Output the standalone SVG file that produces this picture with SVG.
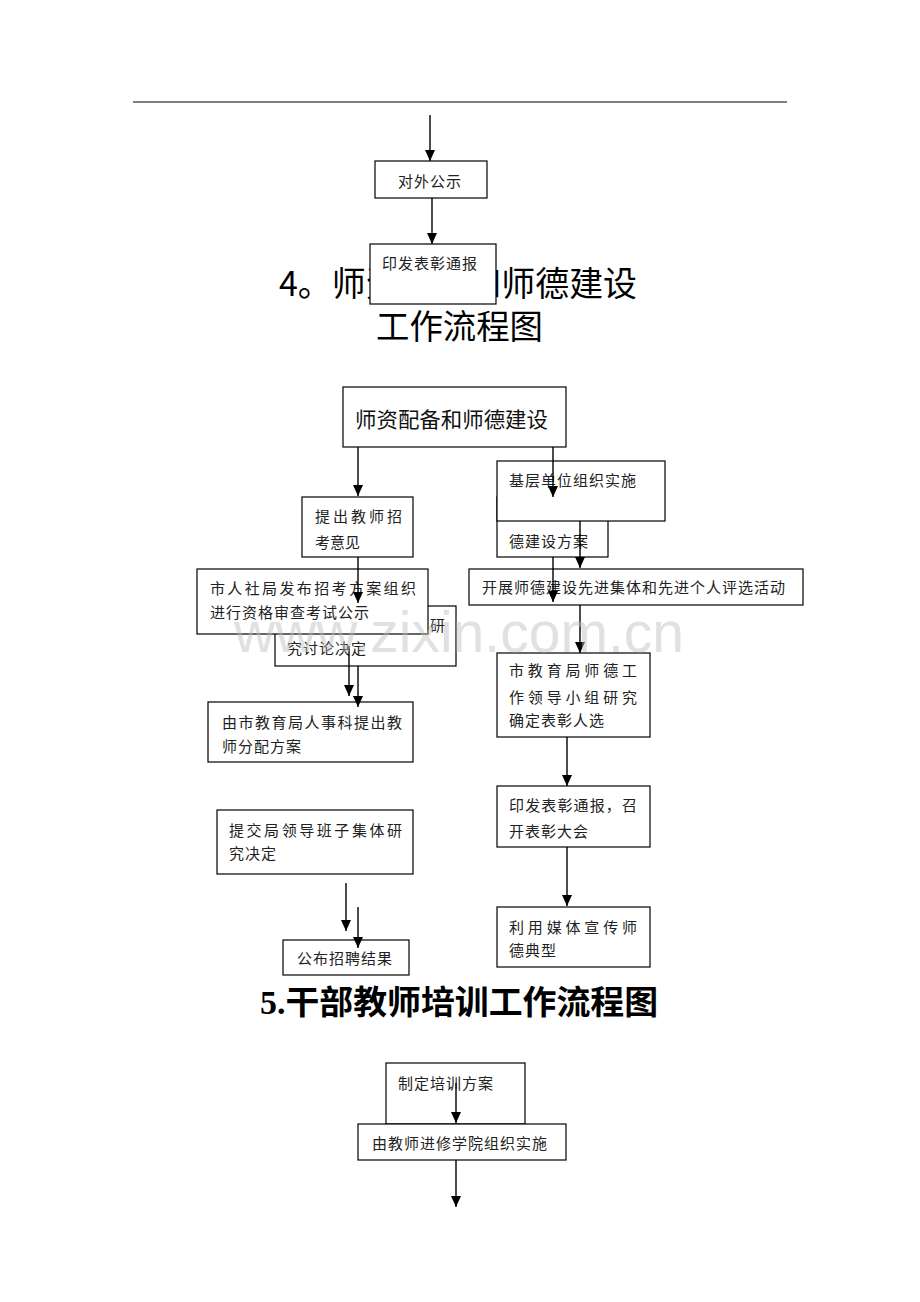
<svg xmlns="http://www.w3.org/2000/svg" width="920" height="1302" viewBox="0 0 920 1302">
<style>
.bx{fill:#fff;stroke:#000;stroke-width:1.2}
.t{font-family:"Noto Sans CJK SC","Liberation Serif",serif;font-size:15px;fill:#222}
.ls{letter-spacing:1px}
.h4{font-family:"Noto Sans CJK SC","Liberation Sans",sans-serif;font-size:34px;fill:#000}
.h5{font-family:"Liberation Serif","Noto Sans CJK SC",serif;font-size:33px;font-weight:bold;fill:#000}
.c{stroke:#000;stroke-width:1.4;fill:none;marker-end:url(#ah)}
.wm{font-family:"Liberation Sans",sans-serif;font-size:57px;fill:#bdbdbd;opacity:0.45}
</style>
<defs>
<marker id="ah" markerUnits="userSpaceOnUse" markerWidth="10" markerHeight="11" refX="5" refY="11" orient="0" viewBox="0 0 10 11">
<path d="M0,0 L10,0 L5,11 z" fill="#000"/>
</marker>
</defs>
<rect width="920" height="1302" fill="#fff"/>
<line x1="133" y1="102" x2="787" y2="102" stroke="#000" stroke-width="1.2"/>

<g id="title4">
<text class="h4" x="279" y="296" textLength="358" lengthAdjust="spacingAndGlyphs">4。师资配备和师德建设</text>
<text class="h4" x="376" y="339" textLength="167" lengthAdjust="spacingAndGlyphs">工作流程图</text>
</g>

<g id="n-duiwai"><rect class="bx" x="375" y="161" width="112" height="37"/><text class="t ls" x="398" y="187">对外公示</text></g>
<g id="n-yinfa-top"><rect class="bx" x="370" y="244" width="126" height="60"/><text class="t ls" x="382" y="269">印发表彰通报</text></g>

<g id="n-main"><rect class="bx" x="343" y="387" width="223" height="60"/><text x="355" y="427" style="font-family:'Noto Sans CJK SC',sans-serif;font-size:21px;fill:#111" textLength="193" lengthAdjust="spacingAndGlyphs">师资配备和师德建设</text></g>

<g id="n-tichu"><rect class="bx" x="302" y="497" width="111" height="60"/>
<text class="t" x="315" y="522" textLength="87">提出教师招</text><text class="t" x="315" y="548">考意见</text></g>

<g id="n-yanjiu"><rect class="bx" x="275" y="606" width="181" height="60"/>
<text class="t" x="430" y="631">研</text><text class="t ls" x="287" y="654">究讨论决定</text></g>

<g id="n-renshe"><rect class="bx" x="197" y="569" width="231" height="65"/>
<text class="t" x="210" y="594" textLength="206">市人社局发布招考方案组织</text><text class="t ls" x="210" y="618">进行资格审查考试公示</text></g>

<g id="n-fenpei"><rect class="bx" x="208" y="702" width="205" height="60"/>
<text class="t" x="222" y="728" textLength="180">由市教育局人事科提出教</text><text class="t ls" x="222" y="752">师分配方案</text></g>

<g id="n-tijiao"><rect class="bx" x="217" y="810" width="196" height="64"/>
<text class="t" x="229" y="836" textLength="173">提交局领导班子集体研</text><text class="t ls" x="229" y="859">究决定</text></g>

<g id="n-gongbu"><rect class="bx" x="283" y="940" width="126" height="35"/><text class="t ls" x="297" y="964">公布招聘结果</text></g>

<g id="n-fangan"><rect class="bx" x="497" y="497" width="111" height="60"/><text class="t ls" x="509" y="547">德建设方案</text></g>
<g id="n-jiceng"><rect class="bx" x="497" y="461" width="168" height="60"/><text class="t ls" x="509" y="486">基层单位组织实施</text></g>

<g id="n-kaizhan"><rect class="bx" x="469" y="569" width="334" height="36"/><text class="t ls" x="482" y="593">开展师德建设先进集体和先进个人评选活动</text></g>

<g id="n-xiaozu"><rect class="bx" x="497" y="653" width="153" height="84"/>
<text class="t" x="509" y="676" textLength="128">市教育局师德工</text><text class="t" x="509" y="703" textLength="128">作领导小组研究</text><text class="t ls" x="509" y="726">确定表彰人选</text></g>

<g id="n-biaozhang"><rect class="bx" x="497" y="786" width="153" height="61"/>
<text class="t" x="509" y="811" textLength="128">印发表彰通报，召</text><text class="t ls" x="509" y="837">开表彰大会</text></g>

<g id="n-meiti"><rect class="bx" x="497" y="907" width="153" height="60"/>
<text class="t" x="509" y="933" textLength="128">利用媒体宣传师</text><text class="t ls" x="509" y="956">德典型</text></g>

<g id="title5"><text class="h5" x="260" y="1014" textLength="398" lengthAdjust="spacingAndGlyphs">5.干部教师培训工作流程图</text></g>

<g id="n-zhiding"><rect class="bx" x="386" y="1063" width="139" height="61"/><text class="t ls" x="398" y="1089">制定培训方案</text></g>
<g id="n-jinxiu"><rect class="bx" x="358" y="1124" width="208" height="36"/><text class="t ls" x="372" y="1149">由教师进修学院组织实施</text></g>

<g id="connectors">
<line class="c" x1="430" y1="115" x2="430" y2="161"/>
<line class="c" x1="432" y1="198" x2="432" y2="244"/>
<line class="c" x1="358" y1="447" x2="358" y2="496"/>
<line class="c" x1="358" y1="557" x2="358" y2="603"/>
<line class="c" x1="349" y1="646" x2="349" y2="696"/>
<line class="c" x1="358" y1="666" x2="358" y2="707"/>
<line class="c" x1="346" y1="883" x2="346" y2="931"/>
<line class="c" x1="358" y1="907" x2="358" y2="948"/>
<line class="c" x1="553" y1="447" x2="553" y2="497"/>
<line class="c" x1="580" y1="521" x2="580" y2="568"/>
<line class="c" x1="553" y1="557" x2="553" y2="602"/>
<line class="c" x1="580" y1="605" x2="580" y2="653"/>
<line class="c" x1="567" y1="737" x2="567" y2="786"/>
<line class="c" x1="567" y1="847" x2="567" y2="906"/>
<line class="c" x1="456" y1="1083" x2="456" y2="1123"/>
<line class="c" x1="456" y1="1160" x2="456" y2="1207"/>
</g>

<text class="wm" x="234" y="652" textLength="450" lengthAdjust="spacingAndGlyphs">www.zixin.com.cn</text>
</svg>
